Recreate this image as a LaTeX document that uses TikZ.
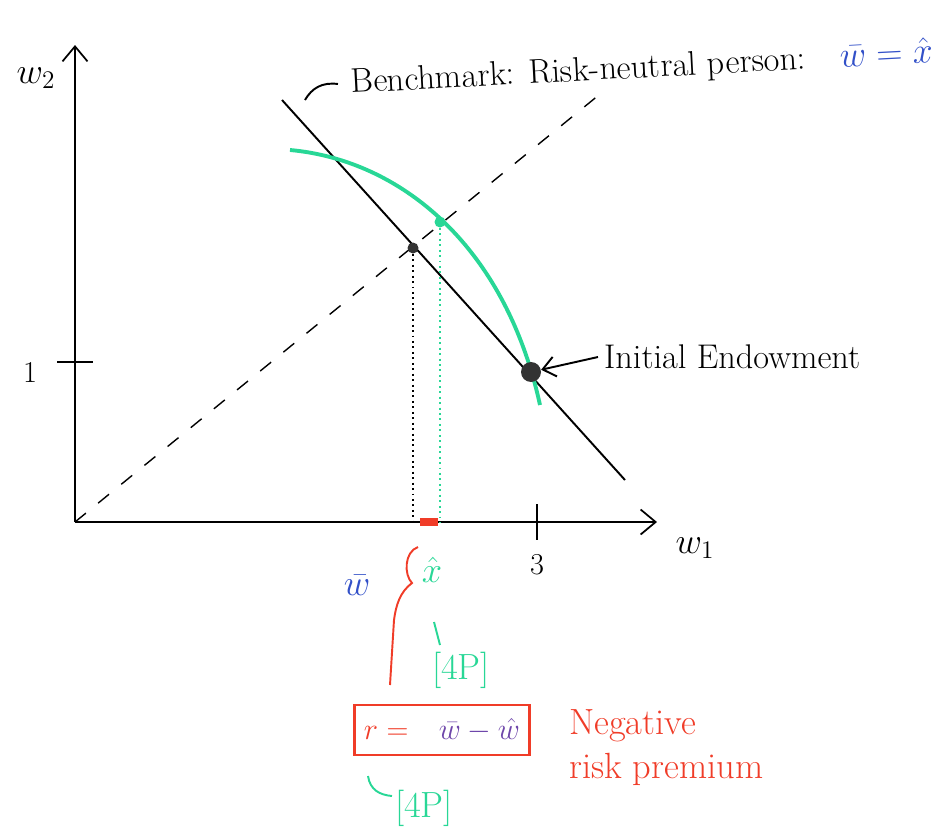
\documentclass[tikz,border=0pt]{standalone}
\usetikzlibrary{arrows.meta, positioning, calc}
\definecolor{mint}{RGB}{40,215,150}
\definecolor{penblue}{RGB}{50,80,200}
\definecolor{penred}{RGB}{240,60,40}
\definecolor{penviolet}{RGB}{110,70,170}
\begin{document}
\begin{tikzpicture}[
    x=0.02cm, y=-0.02cm,
    font=\LARGE,
    ax/.style={-{Straight Barb[length=3mm, width=5mm]}, line width=1pt, black},
    bline/.style={line width=1.1pt, black},
    dline/.style={line width=0.8pt, black, dash pattern=on 8pt off 9pt},
    ucurve/.style={line width=2.2pt, mint},
    vdrop/.style={line width=1.1pt, dotted},
    dot/.style={circle, fill=#1, inner sep=0pt, minimum size=2.2mm},
    lab/.style={inner sep=1pt},
    big/.style={font=\fontsize{19.5}{23}\selectfont},
    pen/.style={line width=1.1pt}
  ]
    \useasboundingbox (0,0) rectangle (937,832);
    % ---- axes ----
    \coordinate (O) at (75,522);
    \coordinate (ytop) at (75,45);
    \coordinate (xend) at (657,522);
    \draw[ax] (O) -- (ytop);
    \draw[ax] (O) -- (xend);
    \node[lab, big] (w2) at (36,78) {$w_2$};
    \node[lab, big] (w1) at (695,548) {$w_1$};
    \coordinate (ytick) at (75,362);
    \coordinate (xtick) at (537,522);
    \draw[pen] ([xshift=-10]ytick) -- ([xshift=10]ytick);
    \draw[pen] ([yshift=-10]xtick) -- ([yshift=10]xtick);
    \node[lab] (one) at (30,372) {1};
    \node[lab] (three) at (537,565) {3};
    % ---- budget line, certainty line, indifference curve ----
    \coordinate (b0) at (282,100);
    \coordinate (b1) at (625,480);
    \coordinate (d1) at (605,90);
    \draw[bline] (b0) -- (b1);
    \draw[dline] (O) -- (d1);
    \draw[ucurve] (290,150) .. controls (400,160) and (505,245) .. (540,405);
    % ---- points ----
    \node[dot=black!80] (wbar) at (413,248) {};
    \node[dot=mint] (xhat) at (440,222) {};
    \node[dot=black!80, minimum size=4mm] (endow) at (531,372) {};
    \draw[vdrop] (wbar) -- (wbar |- O);
    \draw[vdrop, mint] (xhat) -- (xhat |- O);
    \fill[penred] (420,518) rectangle (438,526);
    \node[lab, penblue, big] (wlab) at (357,585) {$\bar w$};
    \node[lab, mint, big] (xlab) at (432,570) {$\hat x$};
    % ---- risk premium ----
    \draw[pen, penred] (418,547) .. controls (404,552) and (404,575) .. (412,583)
      .. controls (400,592) and (396,605) .. (394,620) -- (390,685);
    \draw[pen, mint] (434,622) -- (440,645);
    \node[lab, mint, font=\huge] (pt1) at (461,670) {[4P]};
    \node[draw=penred, line width=1.2pt, minimum width=35mm, minimum height=10mm] (rbox) at (442,730)
      {\textcolor{penred}{$r =$}\quad\textcolor{penviolet}{$\bar w - \hat w$}};
    \node[penred, align=left, anchor=north west, font=\huge] (neg) at (563,703) {Negative\\risk premium};
    \node[lab, mint, font=\huge] (pt2) at (424,808) {[4P]};
    \draw[pen, mint] (368,776) .. controls (370,790) and (380,795) .. (392,796);
    % ---- annotations ----
    \node[anchor=west, rotate=3, big] (bench) at (345,84)
      {Benchmark: Risk-neutral person:\quad\textcolor{penblue}{$\bar w = \hat x$}};
    \draw[pen] (305,100) .. controls (312,88) and (322,82) .. ([xshift=-4]bench.west);
    \node[anchor=west, big] (init) at (598,357) {Initial Endowment};
    \draw[-{Straight Barb[length=2.5mm, width=4mm]}, pen] (init.west) -- (endow);
\end{tikzpicture}
\end{document}
